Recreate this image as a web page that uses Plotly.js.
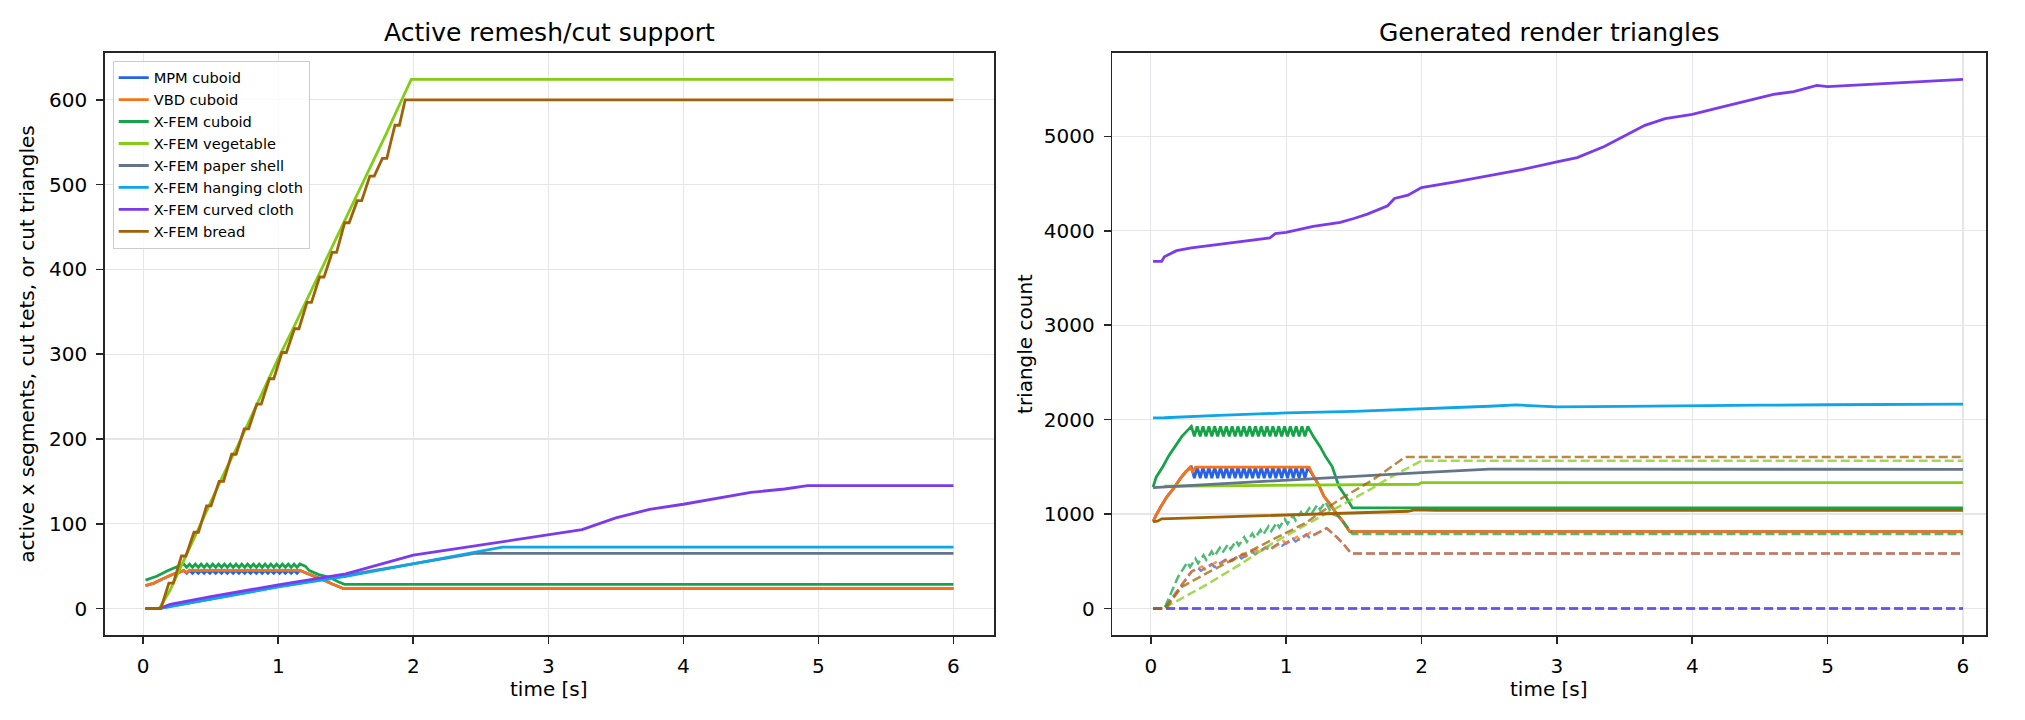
<!DOCTYPE html>
<html><head><meta charset="utf-8">
<script src="https://cdn.plot.ly/plotly-3.0.1.min.js"></script>
<style>html,body{margin:0;padding:0;background:#fff}#chart{width:2025px;height:720px}</style>
</head><body><div id="chart"></div>
<script>
// ---------- names & colours ----------
const seriesNames = ['MPM cuboid','VBD cuboid','X-FEM cuboid','X-FEM vegetable','X-FEM paper shell','X-FEM hanging cloth','X-FEM curved cloth','X-FEM bread'];
const seriesColors = ['#2563eb','#f97316','#16a34a','#84cc16','#64748b','#0ea5e9','#7c3aed','#a16207'];
const panelTitles = ['Active remesh/cut support','Generated render triangles'];
const axisTitles = {x:'time [s]', yLeft:'active x segments, cut tets, or cut triangles', yRight:'triangle count'};

// ---------- shared sawtooth time stamps (s) ----------
const sawT = [0.300,0.322,0.343,0.365,0.386,0.408,0.429,0.451,0.472,0.494,
              0.515,0.537,0.558,0.580,0.601,0.623,0.644,0.666,0.687,0.709,
              0.730,0.752,0.773,0.795,0.816,0.838,0.859,0.881,0.902,0.924,
              0.945,0.967,0.988,1.010,1.031,1.053,1.074,1.096,1.117,1.139,1.160];

// ---------- LEFT: active remesh / cut support ----------
const mpmLeftPreT = [0.017,0.08,0.13,0.17,0.22,0.27];
const mpmLeftPreY = [27,30,34,37,40.5,43];
const mpmLeftSaw = [45,41.5,45,41.5,45,41.5,45,41.5,45,41.5,45,41.5,45,41.5,45,41.5,45,41.5,45,41.5,
                    45,41.5,45,41.5,45,41.5,45,41.5,45,41.5,45,41.5,45,41.5,45,41.5,45,41.5,45,41.5,45];
const mpmLeftPostT = [1.22,1.28,1.34,1.40,1.48,6.0];
const mpmLeftPostY = [41,37.5,33.5,29,23.7,23.7];

const vbdLeftT = [0.017,0.08,0.13,0.17,0.22,0.27,0.30,0.32,0.34,1.16,1.22,1.28,1.34,1.40,1.48,6.0];
const vbdLeftY = [27,30,34,37,40.5,43,45,42.5,45,45,41,37.5,33.5,29,23.7,23.7];

const xcubLeftPreT = [0.017,0.10,0.18,0.25];
const xcubLeftPreY = [33.5,38,44.5,49];
const xcubLeftSaw = [52.5,48.5,52.5,48.5,52.5,48.5,52.5,48.5,52.5,48.5,52.5,48.5,52.5,48.5,52.5,48.5,52.5,48.5,52.5,48.5,
                     52.5,48.5,52.5,48.5,52.5,48.5,52.5,48.5,52.5,48.5,52.5,48.5,52.5,48.5,52.5,48.5,52.5,48.5,52.5,48.5,52.5];
const xcubLeftPostT = [1.20,1.23,1.30,1.38,1.44,1.49,6.0];
const xcubLeftPostY = [50,44.7,40,36.8,32,28.5,28.5];

const vegLeftT = [0.017,0.12,0.2,0.3,0.4,0.5,0.6,0.7,0.8,0.9,1.0,1.1,1.2,1.3,1.4,1.5,1.6,1.7,1.8,1.9,1.985,6.0];
const vegLeftY = [0,0,22,57,92,125,160,192,226,262,295,327,360,393,428,460,494,527,560,595,624,624];

const paperLeftT = [0.017,0.10,0.5,1.0,1.5,2.0,2.45,6.0];
const paperLeftY = [0,0,11,26,39,53,65,65];

const hangLeftT = [0.017,0.12,0.5,1.0,1.5,2.0,2.5,2.66,6.0];
const hangLeftY = [0,0,11,25.5,38,53,68,72.5,72.5];

const curvLeftT = [0.017,0.12,0.2,0.5,1.0,1.5,2.0,2.5,3.0,3.25,3.5,3.75,4.0,4.25,4.5,4.75,4.92,6.0];
const curvLeftY = [0,0,5,14,28,41,63,75,87,93,107,117,123,130,137,141,145,145];

const breadLeftT = [0.017,0.130,0.190,0.223,0.283,0.316,0.376,0.409,0.469,0.502,0.562,0.595,0.655,0.688,0.748,
                    0.781,0.841,0.874,0.934,0.967,1.027,1.060,1.120,1.153,1.213,1.246,1.306,1.339,1.399,1.432,1.492,
                    1.525,1.585,1.618,1.678,1.711,1.771,1.804,1.864,1.897,1.940,6.0];
const breadLeftY = [0,0,30,30,62,62,90,90,121,121,150,150,182,182,212,212,241,241,271,271,302,302,
                    330,330,361,361,391,391,420,420,455,455,481,481,510,510,531,531,570,570,600,600];

// ---------- RIGHT: generated render triangles (solid = total) ----------
const mpmRightPreT = [0.017,0.04,0.075,0.12,0.17,0.22,0.26];
const mpmRightPreY = [920,991,1080,1186,1274,1381,1451];
const mpmRightSaw = [1497,1381,1497,1381,1497,1381,1497,1381,1497,1381,1497,1381,1497,1381,1497,1381,1497,1381,1497,1381,
                     1497,1381,1497,1381,1497,1381,1497,1381,1497,1381,1497,1381,1497,1381,1497,1381,1497,1381,1497,1381,1497];
const mpmRightPostT = [1.20,1.24,1.28,1.32,1.37,1.42,1.47,6.0];
const mpmRightPostY = [1405,1310,1186,1115,1009,920,814,814];

const vbdRightT = [0.017,0.04,0.075,0.12,0.17,0.22,0.26,0.29,0.31,0.33,1.17,1.20,1.24,1.28,1.32,1.37,1.42,1.47,6.0];
const vbdRightY = [920,991,1080,1186,1274,1381,1451,1497,1450,1497,1497,1405,1310,1186,1115,1009,920,814,814];

const xcubRightPreT = [0.017,0.04,0.09,0.13,0.18,0.23];
const xcubRightPreY = [1285,1391,1504,1611,1717,1823];
const xcubRightSaw = [1929,1823,1929,1823,1929,1823,1929,1823,1929,1823,1929,1823,1929,1823,1929,1823,1929,1823,1929,1823,
                      1929,1823,1929,1823,1929,1823,1929,1823,1929,1823,1929,1823,1929,1823,1929,1823,1929,1823,1929,1823,1929];
const xcubRightPostT = [1.20,1.25,1.29,1.34,1.39,1.44,1.49,6.0];
const xcubRightPostY = [1823,1717,1611,1504,1292,1186,1066,1066];

const vegRightT = [0.10,0.5,1.0,1.5,1.98,2.0,6.0];
const vegRightY = [1295,1300,1305,1310,1316,1334,1334];

const paperRightT = [0.017,0.5,1.0,1.5,2.0,2.5,6.0];
const paperRightY = [1280,1320,1360,1400,1440,1476,1474];

const hangRightT = [0.017,0.1,0.5,1.0,1.5,2.0,2.3,2.5,2.7,2.9,3.0,3.5,4.0,4.5,5.0,5.5,6.0];
const hangRightY = [2018,2020,2045,2071,2088,2113,2125,2142,2156,2145,2135,2140,2150,2153,2158,2160,2165];

const curvRightT = [0.017,0.08,0.1,0.19,0.3,0.5,0.75,0.88,0.92,1.0,1.2,1.4,1.5,1.6,1.75,1.8,1.9,2.0,
                    2.25,2.5,2.75,3.0,3.15,3.35,3.5,3.65,3.8,4.0,4.2,4.4,4.6,4.75,4.92,5.0,5.2,5.5,5.75,6.0];
const curvRightY = [3676,3676,3725,3789,3820,3856,3894,3925,3970,3982,4046,4088,4130,4176,4264,4342,4377,4458,
                    4518,4581,4651,4729,4775,4891,5004,5116,5187,5232,5303,5373,5444,5472,5539,5525,5539,5567,5585,5602];

const breadRightT = [0.017,0.05,0.08,1.0,1.9,1.95,2.1,6.0];
const breadRightY = [920,925,950,990,1030,1045,1040,1040];

// ---------- RIGHT: dashed = cut triangles ----------
const mpmCutT = [0.017,0.1,0.3,0.35,0.37,0.45,0.47,0.55,0.57,0.65,0.67,0.75,0.77,0.85,0.87,0.95,0.97,1.05,1.07,1.15,1.17,1.30,1.37,1.42,1.48,6.0];
const mpmCutY = [0,0,390,430,400,470,440,515,485,560,530,605,575,650,620,695,665,740,710,785,755,850,761,690,584,584];

const vbdCutT = [0.017,0.1,0.3,0.38,0.40,0.48,0.50,0.58,0.60,0.68,0.70,0.78,0.80,0.88,0.90,0.98,1.00,1.08,1.10,1.18,1.20,1.30,1.37,1.42,1.48,6.0];
const vbdCutY = [0,0,390,445,415,490,460,535,505,580,550,625,595,670,640,715,685,760,730,805,775,850,761,690,584,584];

const xcubCutT = [0.017,0.10,0.20,0.27,0.29,0.33,0.35,0.39,0.41,0.45,0.47,0.51,0.53,0.57,0.59,0.63,0.65,0.69,0.71,
                  0.75,0.77,0.81,0.83,0.87,0.89,0.93,0.95,0.99,1.01,1.05,1.07,1.11,1.13,1.17,1.19,1.23,1.25,1.29,
                  1.34,1.39,1.44,1.49,6.0];
const xcubCutY = [0,0,330,490,440,528,478,566,516,604,554,642,592,680,630,718,668,756,706,
                  794,744,832,782,870,820,908,858,946,896,984,934,1022,972,1060,1010,1098,1048,1130,
                  1000,973,885,790,790];

const vegCutT = [0.017,0.12,0.135,0.406,0.652,0.898,1.144,1.39,1.636,1.759,2.0,6.0];
const vegCutY = [0,0,35,248,460,690,885,1080,1274,1381,1565,1565];

const paperCutT = [0.017,6.0];
const paperCutY = [0,0];
const hangCutT = [0.017,6.0];
const hangCutY = [0,0];
const curvCutT = [0.017,6.0];
const curvCutY = [0,0];

const breadCutT = [0.017,0.11,0.23,0.41,0.65,0.90,1.14,1.39,1.64,1.88,6.0];
const breadCutY = [0,0,230,372,549,726,903,1150,1363,1605,1605];

// ---------- assemble ----------
const leftX = [
  mpmLeftPreT.concat(sawT, mpmLeftPostT), vbdLeftT, xcubLeftPreT.concat(sawT, xcubLeftPostT),
  vegLeftT, paperLeftT, hangLeftT, curvLeftT, breadLeftT];
const leftY = [
  mpmLeftPreY.concat(mpmLeftSaw, mpmLeftPostY), vbdLeftY, xcubLeftPreY.concat(xcubLeftSaw, xcubLeftPostY),
  vegLeftY, paperLeftY, hangLeftY, curvLeftY, breadLeftY];
const rightX = [
  mpmRightPreT.concat(sawT, mpmRightPostT), vbdRightT, xcubRightPreT.concat(sawT, xcubRightPostT),
  vegRightT, paperRightT, hangRightT, curvRightT, breadRightT];
const rightY = [
  mpmRightPreY.concat(mpmRightSaw, mpmRightPostY), vbdRightY, xcubRightPreY.concat(xcubRightSaw, xcubRightPostY),
  vegRightY, paperRightY, hangRightY, curvRightY, breadRightY];
const cutX = [mpmCutT, vbdCutT, xcubCutT, vegCutT, paperCutT, hangCutT, curvCutT, breadCutT];
const cutY = [mpmCutY, vbdCutY, xcubCutY, vegCutY, paperCutY, hangCutY, curvCutY, breadCutY];

const traces = [];
for (let i = 0; i < seriesNames.length; i++) {
  traces.push({type:'scatter', mode:'lines', x:leftX[i], y:leftY[i], name:seriesNames[i],
    legendgroup:seriesNames[i], xaxis:'x', yaxis:'y',
    line:{color:seriesColors[i], width:2.8}, hoverinfo:'skip'});
}
for (let i = 0; i < seriesNames.length; i++) {
  traces.push({type:'scatter', mode:'lines', x:rightX[i], y:rightY[i], name:seriesNames[i] + ' (total)',
    legendgroup:seriesNames[i], showlegend:false, xaxis:'x2', yaxis:'y2',
    line:{color:seriesColors[i], width:2.8}, hoverinfo:'skip'});
  traces.push({type:'scatter', mode:'lines', x:cutX[i], y:cutY[i], name:seriesNames[i] + ' (cut)',
    legendgroup:seriesNames[i], showlegend:false, xaxis:'x2', yaxis:'y2', opacity:0.75,
    line:{color:seriesColors[i], width:2.5, dash:'9px,4px'}, hoverinfo:'skip'});
}

const FONT = 'DejaVu Sans, Verdana, sans-serif';
const axisStyle = {
  showline:true, linecolor:'#262626', linewidth:1.8, mirror:true,
  ticks:'outside', ticklen:7, tickwidth:1.6, tickcolor:'#262626',
  showgrid:true, gridcolor:'#e4e6ea', gridwidth:1.2, zeroline:false,
  tickfont:{family:FONT, size:20, color:'#000'}, ticklabelstandoff:5,
  exponentformat:'none', automargin:false
};
const layout = {
  width:2025, height:720,
  margin:{l:105, r:39, t:53, b:85},
  paper_bgcolor:'#ffffff', plot_bgcolor:'#ffffff',
  font:{family:FONT, size:20, color:'#000'},
  showlegend:true,
  legend:{x:0.0041, y:0.987, xanchor:'left', yanchor:'top',
    bgcolor:'rgba(255,255,255,0.8)', bordercolor:'#cccccc', borderwidth:1,
    font:{family:FONT, size:14.6, color:'#000'}, tracegroupgap:0, itemwidth:30},
  xaxis:Object.assign({}, axisStyle, {domain:[0,0.4726], anchor:'y', range:[-0.283,6.3], tick0:0, dtick:1}),
  yaxis:Object.assign({}, axisStyle, {domain:[0,1], anchor:'x', range:[-31.2,655.2], tick0:0, dtick:100,
    title:{text:axisTitles.yLeft, font:{family:FONT, size:20}, standoff:9}}),
  xaxis2:Object.assign({}, axisStyle, {domain:[0.5356,1], anchor:'y2', range:[-0.283,6.17], tick0:0, dtick:1}),
  yaxis2:Object.assign({}, axisStyle, {domain:[0,1], anchor:'x2', range:[-280,5882], tick0:0, dtick:1000,
    title:{text:axisTitles.yRight, font:{family:FONT, size:20}, standoff:6}}),
  annotations:[
    {text:panelTitles[0], xref:'paper', yref:'paper', x:0.2363, y:1, xanchor:'center', yanchor:'bottom',
     yshift:4, showarrow:false, font:{family:FONT, size:25, color:'#000'}},
    {text:panelTitles[1], xref:'paper', yref:'paper', x:0.7678, y:1, xanchor:'center', yanchor:'bottom',
     yshift:4, showarrow:false, font:{family:FONT, size:25, color:'#000'}},
    {text:axisTitles.x, xref:'paper', yref:'paper', x:0.2363, y:-0.0705, xanchor:'center', yanchor:'top',
     showarrow:false, borderpad:0, font:{family:FONT, size:20, color:'#000'}},
    {text:axisTitles.x, xref:'paper', yref:'paper', x:0.7678, y:-0.0705, xanchor:'center', yanchor:'top',
     showarrow:false, borderpad:0, font:{family:FONT, size:20, color:'#000'}}
  ]
};
Plotly.newPlot('chart', traces, layout, {staticPlot:true, displayModeBar:false});
</script>
</body></html>
